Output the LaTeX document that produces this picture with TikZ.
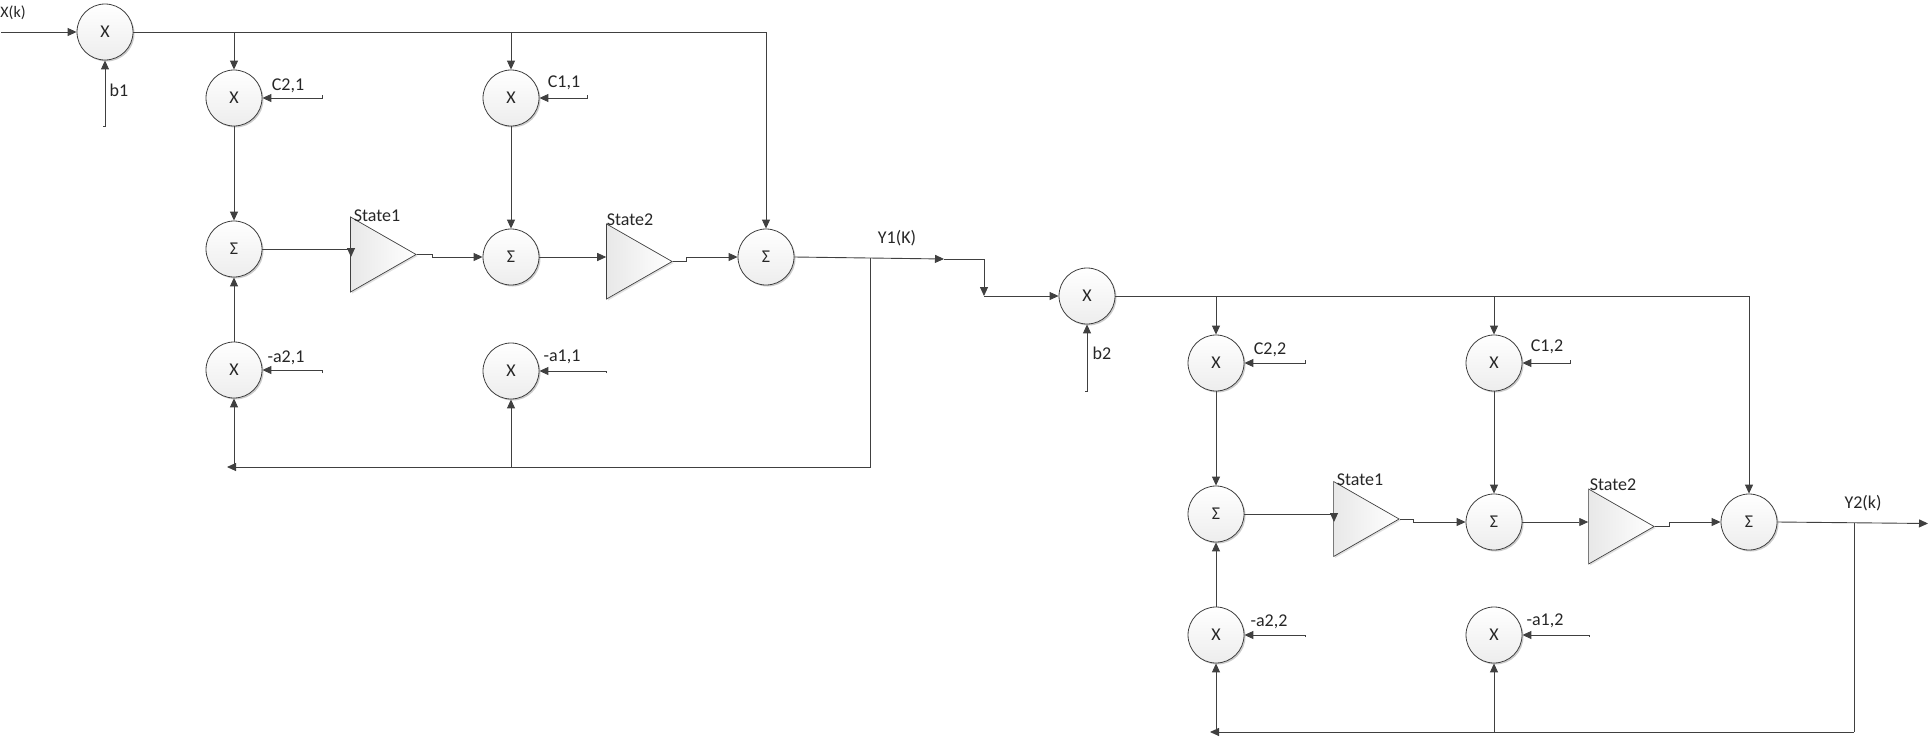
\documentclass[tikz,border=0pt]{standalone}
\usepackage{fontspec}
\setmainfont{Carlito}
\usetikzlibrary{arrows.meta,shapes.geometric,shadows}
\definecolor{ink}{HTML}{404040}

\begin{document}
\begin{tikzpicture}[x=1pt, y=-1pt,
    unit/.style={circle, draw=ink, line width=.8pt, minimum size=56pt, inner sep=0pt, top color=white, bottom color=black!7, text=black!85, font=\fontsize{18}{20}\selectfont, drop shadow={shadow xshift=1.5pt, shadow yshift=-1.5pt, opacity=.2, fill=black}},
    amp/.style={isosceles triangle, isosceles triangle stretches, shape border rotate=0, minimum width=75pt, minimum height=65.5pt, inner sep=0pt, anchor=apex, draw=ink, line width=.7pt, left color=black!9, right color=white, drop shadow={shadow xshift=1.5pt, shadow yshift=-1.5pt, opacity=.12, fill=black}},
    tag/.style={text=black!85, inner sep=0pt, font=\fontsize{18}{20}\selectfont},
    wire/.style={draw=ink, line width=.9pt},
    feed/.style={wire, -{Triangle[length=9pt,width=8pt]}}]
\useasboundingbox (0,0) rectangle (1928,737);

% first section
\node[unit] (m1) at (105, 32) {X};
\node[unit] (c21) at (234, 98) {X};
\node[unit] (c11) at (511, 98) {X};
\node[unit] (s11) at (234, 249) {Σ};
\node[unit] (s12) at (511, 257) {Σ};
\node[unit] (s13) at (766, 257) {Σ};
\node[unit] (a21) at (234, 370) {X};
\node[unit] (a11) at (511, 371) {X};
\node[amp] (st11) at (417, 254.5) {};
\node[amp] (st12) at (673, 261.5) {};

\node[tag, font=\fontsize{16}{18}\selectfont] (xk) at (13, 13) {X(k)};
\node[tag] (lb1) at (119, 90) {b1};
\node[tag] (lc21) at (288, 85.5) {C2,1};
\node[tag] (lc11) at (564, 82.5) {C1,1};
\node[tag] (la21) at (286, 358) {-a2,1};
\node[tag] (la11) at (562, 357) {-a1,1};
\node[tag] (ls11) at (377, 216) {State1};
\node[tag] (ls12) at (630, 220) {State2};
\node[tag] (ly1) at (897, 238) {Y1(K)};

\coordinate (in1) at (1, 32);
\coordinate (b1in) at (103, 126);
\coordinate (c21in) at (322, 95);
\coordinate (c11in) at (587, 95);
\coordinate (a21in) at (322, 373);
\coordinate (a11in) at (606, 373);
\coordinate (d1) at (351, 257);
\coordinate (k11) at (432, 254.5);
\coordinate (k12) at (686, 261.5);
\coordinate (out1) at (944, 259);
\coordinate (fb1) at (870.5, 258);
\coordinate (fb2) at (227, 467);
\coordinate (j1) at (984, 296);

\draw[feed] (in1) -- (m1.west);
\draw[feed] (b1in) -- (105, 126) -- (m1.south);
\draw[feed] (m1.east) -| (s13.north);
\draw[feed] (c21.north |- m1) -- (c21.north);
\draw[feed] (c11.north |- m1) -- (c11.north);
\draw[feed] (c21in) |- (c21.east);
\draw[feed] (c11in) |- (c11.east);
\draw[feed] (a21in) |- (a21.east);
\draw[feed] (a11in) |- (a11.east);
\draw[feed] (c21.south) -- (s11.north);
\draw[feed] (c11.south) -- (s12.north);
\draw[feed] (a21.north) -- (s11.south);
\draw[feed] (s11.east) -| (d1);
\draw[feed] (st11.apex) -- (k11) |- (s12.west);
\draw[feed] (s12.east) -- (s12.east -| st12.lower side);
\draw[feed] (st12.apex) -- (k12) |- (s13.west);
\draw[feed] (s13.east) -- (out1);
\draw[feed] (out1) -| (j1);
\draw[wire] (fb1) -- (fb1 |- fb2);
\draw[feed] (fb1 |- fb2) -- (fb2);
\draw[feed] (fb2 -| a21.south) -- (a21.south);
\draw[feed] (fb2 -| a11.south) -- (a11.south);

% second section
\node[unit] (m2) at (1087, 296) {X};
\node[unit] (c22) at (1216, 363) {X};
\node[unit] (c12) at (1494, 363) {X};
\node[unit] (s21) at (1216, 514) {Σ};
\node[unit] (s22) at (1494, 522) {Σ};
\node[unit] (s23) at (1749, 522) {Σ};
\node[unit] (a22) at (1216, 635) {X};
\node[unit] (a12) at (1494, 635) {X};
\node[amp] (st21) at (1400, 519) {};
\node[amp] (st22) at (1655, 526.5) {};

\node[tag] (lb2) at (1102, 353) {b2};
\node[tag] (lc22) at (1270, 349.5) {C2,2};
\node[tag] (lc12) at (1547, 346.5) {C1,2};
\node[tag] (la22) at (1269, 622) {-a2,2};
\node[tag] (la12) at (1545, 621) {-a1,2};
\node[tag] (ls21) at (1360, 480) {State1};
\node[tag] (ls22) at (1613, 485) {State2};
\node[tag] (ly2) at (1863, 503) {Y2(k)};

\coordinate (b2in) at (1085, 391);
\coordinate (c22in) at (1305, 360);
\coordinate (c12in) at (1570, 360);
\coordinate (a22in) at (1305, 637);
\coordinate (a12in) at (1589, 637);
\coordinate (d2) at (1334, 522);
\coordinate (k21) at (1413, 519);
\coordinate (k22) at (1669, 526.5);
\coordinate (out2) at (1928, 523.5);
\coordinate (fb3) at (1854, 523);
\coordinate (fb4) at (1210, 732);

\draw[feed] (j1) -- (m2.west);
\draw[feed] (b2in) -- (1087, 391) -- (m2.south);
\draw[feed] (m2.east) -| (s23.north);
\draw[feed] (c22.north |- m2) -- (c22.north);
\draw[feed] (c12.north |- m2) -- (c12.north);
\draw[feed] (c22in) |- (c22.east);
\draw[feed] (c12in) |- (c12.east);
\draw[feed] (a22in) |- (a22.east);
\draw[feed] (a12in) |- (a12.east);
\draw[feed] (c22.south) -- (s21.north);
\draw[feed] (c12.south) -- (s22.north);
\draw[feed] (a22.north) -- (s21.south);
\draw[feed] (s21.east) -| (d2);
\draw[feed] (st21.apex) -- (k21) |- (s22.west);
\draw[feed] (s22.east) -- (s22.east -| st22.lower side);
\draw[feed] (st22.apex) -- (k22) |- (s23.west);
\draw[feed] (s23.east) -- (out2);
\draw[wire] (fb3) -- (fb3 |- fb4);
\draw[feed] (fb3 |- fb4) -- (fb4);
\draw[feed] (fb4 -| a22.south) -- (a22.south);
\draw[feed] (fb4 -| a12.south) -- (a12.south);
\end{tikzpicture}
\end{document}
